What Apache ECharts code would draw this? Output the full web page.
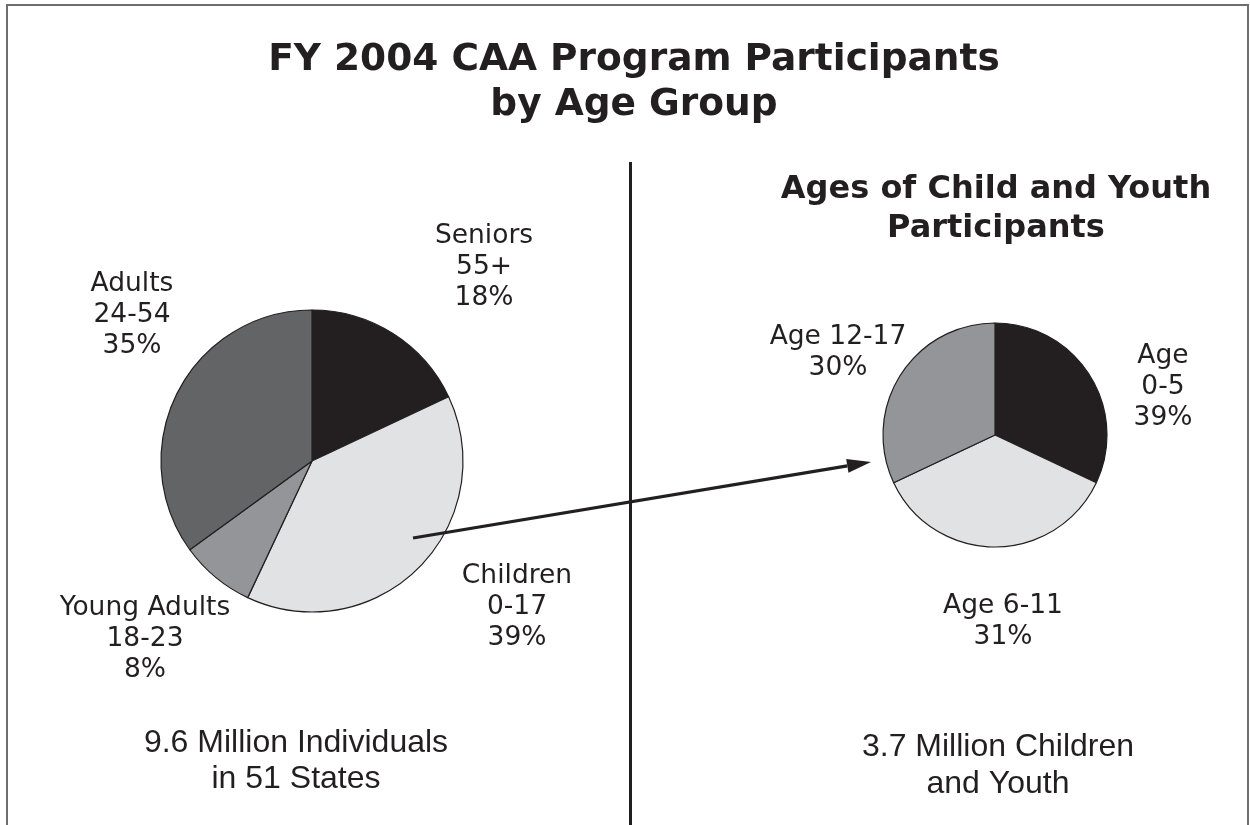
<!DOCTYPE html>
<html>
<head>
<meta charset="utf-8">
<script src="https://cdn.jsdelivr.net/npm/echarts@6/dist/echarts.min.js"></script>
<style>
html,body{margin:0;padding:0;background:#fff;}
#chart{width:1250px;height:825px;}
</style>
</head>
<body>
<div id="chart"></div>
<script>
// ---- data ----
var leftNames = ["Seniors", "Children", "Young Adults", "Adults"];
var leftValues = [18, 39, 8, 35];
var leftLabels = ["Seniors\n55+\n18%", "Children\n0-17\n39%", "Young Adults\n18-23\n8%", "Adults\n24-54\n35%"];

var rightNames = ["Age 0-5", "Age 6-11", "Age 12-17"];
// slice sizes as drawn in the picture
var rightValues = [32, 36, 32];
var rightLabels = ["Age\n0-5\n39%", "Age 6-11\n31%", "Age 12-17\n30%"];

var titleText = "FY 2004 CAA Program Participants\nby Age Group";
var subTitleText = "Ages of Child and Youth\nParticipants";
var leftNote = "9.6 Million Individuals\nin 51 States";
var rightNote = "3.7 Million Children\nand Youth";

// ---- styles / layout ----
var leftColors = ["#231f20", "#e1e2e3", "#939598", "#636466"];
var rightColors = ["#231f20", "#e1e2e3", "#939598"];
var leftLabelPos = [[484, 267], [517, 607], [145, 639], [132, 315]];
var rightLabelPos = [[1163, 387], [1003, 622], [838, 353]];
var labelFont = "'DejaVu Sans', Verdana, sans-serif";

function mk(names, values, colors) {
  return names.map(function (n, i) {
    return { name: n, value: values[i], itemStyle: { color: colors[i] } };
  });
}

var chart = echarts.init(document.getElementById('chart'));

// arrow geometry
var ax1 = 413, ay1 = 538, ax2 = 871, ay2 = 462;
var ang = Math.atan2(ay2 - ay1, ax2 - ax1);
var hl = 24, hw = 7;
var bx = ax2 - hl * Math.cos(ang), by = ay2 - hl * Math.sin(ang);
var headPts = [
  [ax2, ay2],
  [bx + hw * Math.sin(ang), by - hw * Math.cos(ang)],
  [bx - hw * Math.sin(ang), by + hw * Math.cos(ang)]
];

function labelStyle() {
  return {
    show: true,
    fontFamily: labelFont,
    fontSize: 26.5,
    lineHeight: 31,
    color: '#231f20',
    align: 'center'
  };
}

chart.setOption({
  backgroundColor: '#ffffff',
  animation: false,
  series: [
    {
      type: 'pie',
      center: [312, 461],
      radius: 151,
      startAngle: 90,
      clockwise: true,
      avoidLabelOverlap: false,
      silent: true,
      itemStyle: { borderColor: '#231f20', borderWidth: 1.2 },
      label: Object.assign(labelStyle(), {
        formatter: function (p) { return leftLabels[p.dataIndex]; }
      }),
      labelLine: { show: false },
      labelLayout: function (p) {
        var pos = leftLabelPos[p.dataIndex];
        return { x: pos[0], y: pos[1], align: 'center', verticalAlign: 'middle' };
      },
      data: mk(leftNames, leftValues, leftColors)
    },
    {
      type: 'pie',
      center: [995, 435],
      radius: 112,
      startAngle: 90,
      clockwise: true,
      avoidLabelOverlap: false,
      silent: true,
      itemStyle: { borderColor: '#231f20', borderWidth: 1.2 },
      label: Object.assign(labelStyle(), {
        formatter: function (p) { return rightLabels[p.dataIndex]; }
      }),
      labelLine: { show: false },
      labelLayout: function (p) {
        var pos = rightLabelPos[p.dataIndex];
        return { x: pos[0], y: pos[1], align: 'center', verticalAlign: 'middle' };
      },
      data: mk(rightNames, rightValues, rightColors)
    }
  ],
  graphic: [
    { type: 'rect', shape: { x: 7, y: 5, width: 1241, height: 840 },
      style: { fill: 'none', stroke: '#6d6e70', lineWidth: 2 }, silent: true },
    { type: 'line', shape: { x1: 630.5, y1: 162, x2: 630.5, y2: 832 },
      style: { stroke: '#231f20', lineWidth: 3 }, silent: true },
    { type: 'line', shape: { x1: ax1, y1: ay1, x2: bx, y2: by },
      style: { stroke: '#231f20', lineWidth: 3.2 }, silent: true, z: 10 },
    { type: 'polygon', shape: { points: headPts },
      style: { fill: '#231f20' }, silent: true, z: 10 },
    { type: 'text', x: 634, y: 83,
      style: { text: titleText, fontFamily: "'DejaVu Sans', Verdana, sans-serif", fontWeight: 'bold',
               fontSize: 37.5, lineHeight: 45, fill: '#231f20', align: 'center', verticalAlign: 'middle' } },
    { type: 'text', x: 996, y: 209,
      style: { text: subTitleText, fontFamily: "'DejaVu Sans', Verdana, sans-serif", fontWeight: 'bold',
               fontSize: 32, lineHeight: 39, fill: '#231f20', align: 'center', verticalAlign: 'middle' } },
    { type: 'text', x: 296, y: 761,
      style: { text: leftNote, fontFamily: "'Liberation Sans', Arial, sans-serif",
               fontSize: 32, lineHeight: 36, fill: '#231f20', align: 'center', verticalAlign: 'middle' } },
    { type: 'text', x: 998, y: 766,
      style: { text: rightNote, fontFamily: "'Liberation Sans', Arial, sans-serif",
               fontSize: 32, lineHeight: 37, fill: '#231f20', align: 'center', verticalAlign: 'middle' } }
  ]
});
</script>
</body>
</html>
